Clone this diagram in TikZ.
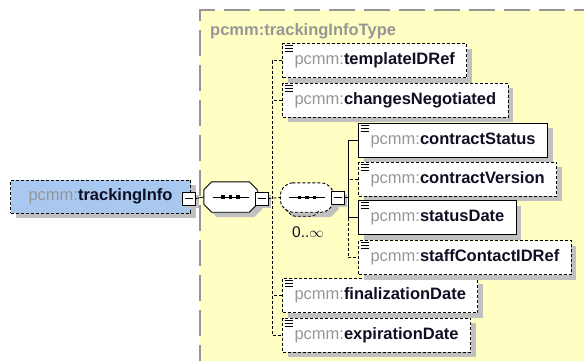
\documentclass[tikz,border=0pt]{standalone}
\usepackage{fontspec}
\setmainfont{Liberation Sans}
\usetikzlibrary{shadows}

\definecolor{typefill}{RGB}{255,255,196}
\definecolor{typeline}{RGB}{150,150,150}
\definecolor{elemblue}{RGB}{168,200,240}
\definecolor{pfxgray}{RGB}{150,150,150}
\definecolor{namecol}{RGB}{15,15,35}
\definecolor{shadowgray}{RGB}{192,192,192}

\newcommand{\el}[1]{{\color{pfxgray}\mdseries pcmm:}#1}
% octagon round a sequence node
\newcommand{\octpath}[1]{([xshift=8pt]#1.north west) -- ([xshift=-8pt]#1.north east) -- ([yshift=-8pt]#1.north east) -- ([yshift=8pt]#1.south east) -- ([xshift=-8pt]#1.south east) -- ([xshift=8pt]#1.south west) -- ([yshift=8pt]#1.south west) -- ([yshift=-8pt]#1.north west) -- cycle}
\newcommand{\seqsym}[2]{%
 \fill[shadowgray, transform canvas={shift={(5pt,-5pt)}}] \octpath{#1};
 \draw[line width=0.9pt, fill=white, #2] \octpath{#1};
 \draw[line width=0.9pt] ([xshift=-18pt]#1.center) -- ([xshift=18pt]#1.center);
 \foreach \d in {-7.5,0,7.5}
  \fill[black] ([xshift=\d pt]#1.center) +(-1.8pt,-1.8pt) rectangle +(1.8pt,1.8pt);
}

\tikzset{
 opt/.style={dash pattern=on 3pt off 2pt},
 elem/.style={rectangle, draw=black, line width=1pt, fill=white, anchor=west,
  minimum height=34pt, inner xsep=12pt, text=namecol,
  font=\fontsize{16.5}{18}\selectfont\bfseries,
  drop shadow={shadow xshift=5pt, shadow yshift=-5pt, fill=shadowgray, opacity=1},
  path picture={
   \foreach \d in {2,5,8}
    \draw[solid, black, line width=0.9pt] ([xshift=2pt, yshift=-\d pt]path picture bounding box.north west) -- ++(8pt,0pt);
  }},
 minus/.style={rectangle, draw=black, line width=0.8pt, fill=white, solid,
  minimum size=13pt, inner sep=0pt,
  drop shadow={shadow xshift=3pt, shadow yshift=-3pt, fill=shadowgray, opacity=1},
  path picture={
   \draw[solid, black, line width=0.8pt] ([xshift=2.5pt]path picture bounding box.west) -- ([xshift=-2.5pt]path picture bounding box.east);
  }},
 seqbox/.style={rectangle, minimum width=53pt, minimum height=30pt, inner sep=0pt}
}

\begin{document}
\begin{tikzpicture}[x=1pt, y=-1pt]
\useasboundingbox (0,0) rectangle (584,360);

% complex type
\fill[typefill] (200,10) rectangle (600,380);
\draw[typeline, line width=1.3pt, dash pattern=on 26pt off 9pt] (600,10) -- (200,10) -- (200,380);
\node[anchor=west, inner sep=0pt, text=pfxgray, font=\fontsize{16.5}{18}\selectfont\bfseries] (typeLbl) at (210,31) {pcmm:trackingInfoType};

% root element
\node[elem, opt, fill=elemblue, minimum width=180pt, minimum height=33pt, path picture={}] (trk) at (10,196.5) {\el{trackingInfo}};
\node[minus] (minusA) at (189,198.5) {};

% sequences
\node[seqbox] (seqA) at (230.5,197) {};
\seqsym{seqA}{solid}
\node[minus] (minusB) at (261.5,198.5) {};
\node[seqbox, minimum height=29pt] (seqB) at (307,197.5) {};
\seqsym{seqB}{opt, rounded corners=4pt}
\draw[opt, line width=0.8pt, rounded corners=3pt] ([xshift=5pt, yshift=3pt]seqB.south west) -- ++(7,7) -- ++(22,0) -- ++(6,-7);
\node[minus] (minusC) at (337.5,197.5) {};
\node[font=\fontsize{15.5}{17}\selectfont, text=namecol] (occ) at (308,232) {0..\ensuremath{\infty}};

% children of the outer sequence
\node[elem, opt] (templ) at (282,60.5) {\el{templateIDRef}};
\node[elem, opt] (chng) at (282,100) {\el{changesNegotiated}};
\node[elem, opt] (final) at (282,295.5) {\el{finalizationDate}};
\node[elem, opt] (expir) at (282,335) {\el{expirationDate}};

% children of the inner sequence
\node[elem] (cstat) at (358,140) {\el{contractStatus}};
\node[elem, opt] (cver) at (358,179) {\el{contractVersion}};
\node[elem] (sdate) at (358,217.5) {\el{statusDate}};
\node[elem, opt] (staff) at (358,257.5) {\el{staffContactIDRef}};

% connectors
\coordinate (spineA) at (272,0);
\coordinate (spineB) at (348,0);
\draw[line width=0.8pt] (minusA.east) -- (seqA.west);
\draw[opt, line width=0.8pt] (minusB.east) -- (seqB.west);
\draw[opt, line width=0.8pt] (templ.west) -- (templ.west -| spineA) -- (expir.west -| spineA) -- (expir.west);
\foreach \n in {chng, final}
 \draw[opt, line width=0.8pt] (\n.west) -- (\n.west -| spineA);
\draw[line width=0.8pt] (minusC.east) -- (minusC.east -| spineB);
\draw[line width=0.8pt] (cstat.west) -- (cstat.west -| spineB) -- (sdate.west -| spineB) -- (sdate.west);
\draw[opt, line width=0.8pt] (sdate.west -| spineB) -- (staff.west -| spineB) -- (staff.west);
\draw[opt, line width=0.8pt] (cver.west) -- (cver.west -| spineB);
\end{tikzpicture}
\end{document}
